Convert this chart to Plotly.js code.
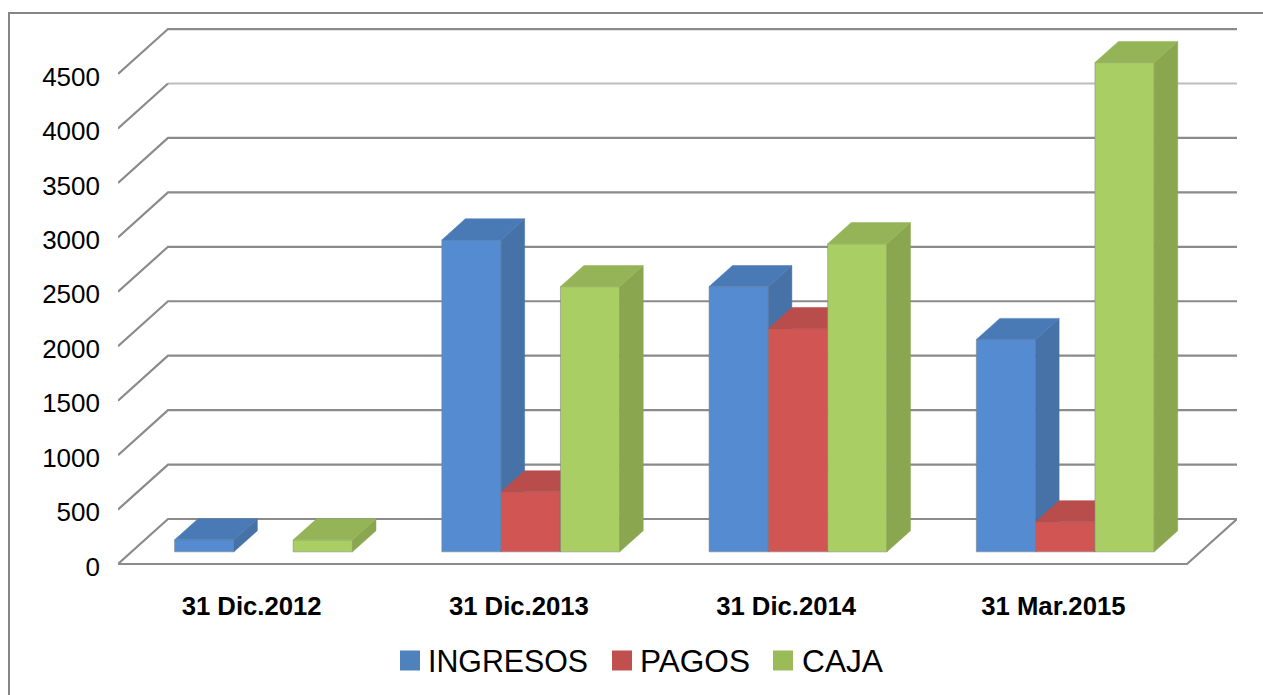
<!DOCTYPE html>
<html>
<head>
<meta charset="utf-8">
<script src="https://cdn.plot.ly/plotly-3.0.1.min.js"></script>
<style>html,body{margin:0;padding:0;background:#fff;overflow:hidden}</style>
</head>
<body>
<div id="chart" style="width:1263px;height:695px"></div>
<script>
// ---- data ----
const categories = ['31 Dic.2012', '31 Dic.2013', '31 Dic.2014', '31 Mar.2015'];
const ingresos = [110, 2865, 2436, 1950];
const pagos = [0, 551, 2050, 276];
const caja = [110, 2436, 2830, 4494];
const yTicks = [0, 500, 1000, 1500, 2000, 2500, 3000, 3500, 4000, 4500];
const lightTicks = [4000];

const seriesNames = ['INGRESOS', 'PAGOS', 'CAJA'];
const seriesValues = [ingresos, pagos, caja];
const frontColors = ['#558bd0', '#d15553', '#a9ce63'];
const topColors = ['#4a7ab6', '#b94d4b', '#94b457'];
const sideColors = ['#4672a8', '#a84644', '#8aa64e'];
const legendColors = ['#4f81bd', '#c0504d', '#9bbb59'];

// ---- oblique projection, in axis units ----
const W = 1263, H = 695, L = 118, R = 26, T = 20, B = 125;
const unitX = 267.25, unitY = 54.44 / 500;       // px per axis unit
const depthX = 50 / unitX, depthY = 45 / unitY;  // full floor depth, in axis units
const near = 0.27, far = 0.74;                   // bar depth span as a fraction of the floor
const barW = 59.3 / unitX, barShift = -1.6 / unitX;
const xMax = (W - L - R) / unitX;
const yRange = [-6 / unitY, (564 - T) / unitY];
const grid = '#8b8b8b', gridLight = '#bdbdbd';

const traces = [];
// walls and floor
const gx = [], gy = [], hx = [], hy = [];
yTicks.forEach(v => {
  const light = lightTicks.includes(v);
  gx.push(0, depthX); gy.push(v, v + depthY);
  if (!light) { gx.push(categories.length + depthX); gy.push(v + depthY); }
  gx.push(null); gy.push(null);
  if (light) { hx.push(depthX, categories.length + depthX, null); hy.push(v + depthY, v + depthY, null); }
});
gx.push(0, categories.length, categories.length + depthX);
gy.push(0, 0, depthY);
traces.push({x: hx, y: hy, mode: 'lines', line: {color: gridLight, width: 2.2}, showlegend: false, hoverinfo: 'skip'});
traces.push({x: gx, y: gy, mode: 'lines', line: {color: grid, width: 2.2}, showlegend: false, hoverinfo: 'skip'});

function poly(xs, ys, color, axis) {
  return {x: xs, y: ys, yaxis: axis, mode: 'lines', fill: 'toself', fillcolor: color,
    line: {color: color, width: 0.5}, showlegend: false, hoverinfo: 'skip'};
}
seriesValues.forEach((vals, k) => {
  const axis = 'y' + (k + 2);
  const xs = categories.map((c, i) => i + 0.5 + near * depthX + barShift + (k - 1) * barW);
  const bases = categories.map(() => near * depthY);
  traces.push({type: 'bar', name: seriesNames[k], x: xs, y: vals.map(v => v || null), base: bases, width: barW, yaxis: axis,
    marker: {color: frontColors[k], line: {color: 'rgba(130,130,130,0.55)', width: 1}}, hoverinfo: 'skip'});
  const dx = (far - near) * depthX, dy = (far - near) * depthY;
  const sx = [], sy = [], tx = [], ty = [];
  vals.forEach((v, i) => {
    if (!v) return;
    const x1 = xs[i] + barW / 2, x0 = xs[i] - barW / 2, b = bases[i], t = b + v;
    sx.push(x1, x1 + dx, x1 + dx, x1, x1, null);
    sy.push(b, b + dy, t + dy, t, b, null);
    tx.push(x0, x0 + dx, x1 + dx, x1, x0, null);
    ty.push(t, t + dy, t + dy, t, t, null);
  });
  traces.push(poly(sx, sy, sideColors[k], axis));
  traces.push(poly(tx, ty, topColors[k], axis));
});

const font = 'Liberation Sans, Arial, sans-serif';
const hiddenY = {range: yRange, overlaying: 'y', visible: false, fixedrange: true};
const layout = {
  width: W, height: H, paper_bgcolor: '#fff', plot_bgcolor: 'rgba(0,0,0,0)',
  margin: {l: L, r: R, t: T, b: B, autoexpand: false},
  barmode: 'overlay',
  font: {family: font, color: '#000'},
  xaxis: {range: [0, xMax], tickmode: 'array', tickvals: categories.map((c, i) => i + 0.5), ticktext: categories,
    tickfont: {family: font, size: 25.7, weight: 'bold', color: '#000'}, ticks: '', showgrid: false, zeroline: false,
    showline: false, ticklabelstandoff: 18, fixedrange: true},
  yaxis: {range: yRange, tickmode: 'array', tickvals: yTicks, ticktext: yTicks.map(String),
    tickfont: {family: font, size: 26, color: '#000'}, ticks: '', showgrid: false, zeroline: false, showline: false,
    ticklabelstandoff: 17, fixedrange: true},
  yaxis2: hiddenY, yaxis3: hiddenY, yaxis4: hiddenY,
  legend: {orientation: 'h', x: (370 - L) / (W - L - R), xanchor: 'left', y: (570 - 660) / (H - T - B), yanchor: 'middle',
    font: {family: font, size: 32, color: '#000'}, bgcolor: 'rgba(0,0,0,0)', traceorder: 'normal'},
  shapes: [{type: 'path', xref: 'paper', yref: 'paper', layer: 'below',
    path: 'M' + (9 - L) / (W - L - R) + ',' + (570 - H) / (H - T - B) +
      'L' + (9 - L) / (W - L - R) + ',' + (570 - 13) / (H - T - B) +
      'L' + (W - L) / (W - L - R) + ',' + (570 - 13) / (H - T - B),
    line: {color: '#868686', width: 2}}],
  showlegend: true, hovermode: false
};

const swatchCentres = [410, 622, 783], textLefts = [428, 640, 802], textWidths = [160, 110, 81], swatchMid = 660.5, swatchSize = 20;
Plotly.newPlot('chart', traces, layout, {staticPlot: true, displayModeBar: false}).then(gd => {
  // y tick labels sit slightly below their gridline in the reference
  gd.querySelectorAll('.yaxislayer-above').forEach(g => g.setAttribute('transform', 'translate(0,2.5)'));
  // larger swatches, in flatter colours, at the reference's spacing
  const clip = gd.querySelector('.legend .scrollbox');
  if (clip) clip.removeAttribute('clip-path');
  gd.querySelectorAll('.legend .traces').forEach((g, k) => {
    const text = g.querySelector('text');
    text.setAttribute('textLength', textWidths[k]);
    text.setAttribute('lengthAdjust', 'spacingAndGlyphs');
    const m = /translate\(([-\d.]+)[ ,]+([-\d.]+)\)/.exec(g.getAttribute('transform') || '') || [0, 0, 0];
    const shift = textLefts[k] - text.getBoundingClientRect().left;
    g.setAttribute('transform', 'translate(' + (parseFloat(m[1]) + shift) + ',' + m[2] + ')');
    const p = g.querySelector('.legendpoints path');
    if (p) {
      p.style.fill = legendColors[k]; p.style.stroke = 'none'; p.style.strokeWidth = 0;
      const b = p.getBBox(), c = p.parentNode.getScreenCTM();
      const tx = swatchCentres[k] - c.e, ty = swatchMid - c.f;
      p.setAttribute('transform', 'translate(' + tx + ',' + ty + ') scale(' + swatchSize / b.width + ',' + swatchSize / b.height +
        ') translate(' + -(b.x + b.width / 2) + ',' + -(b.y + b.height / 2) + ')');
    }
  });
});
</script>
</body>
</html>
